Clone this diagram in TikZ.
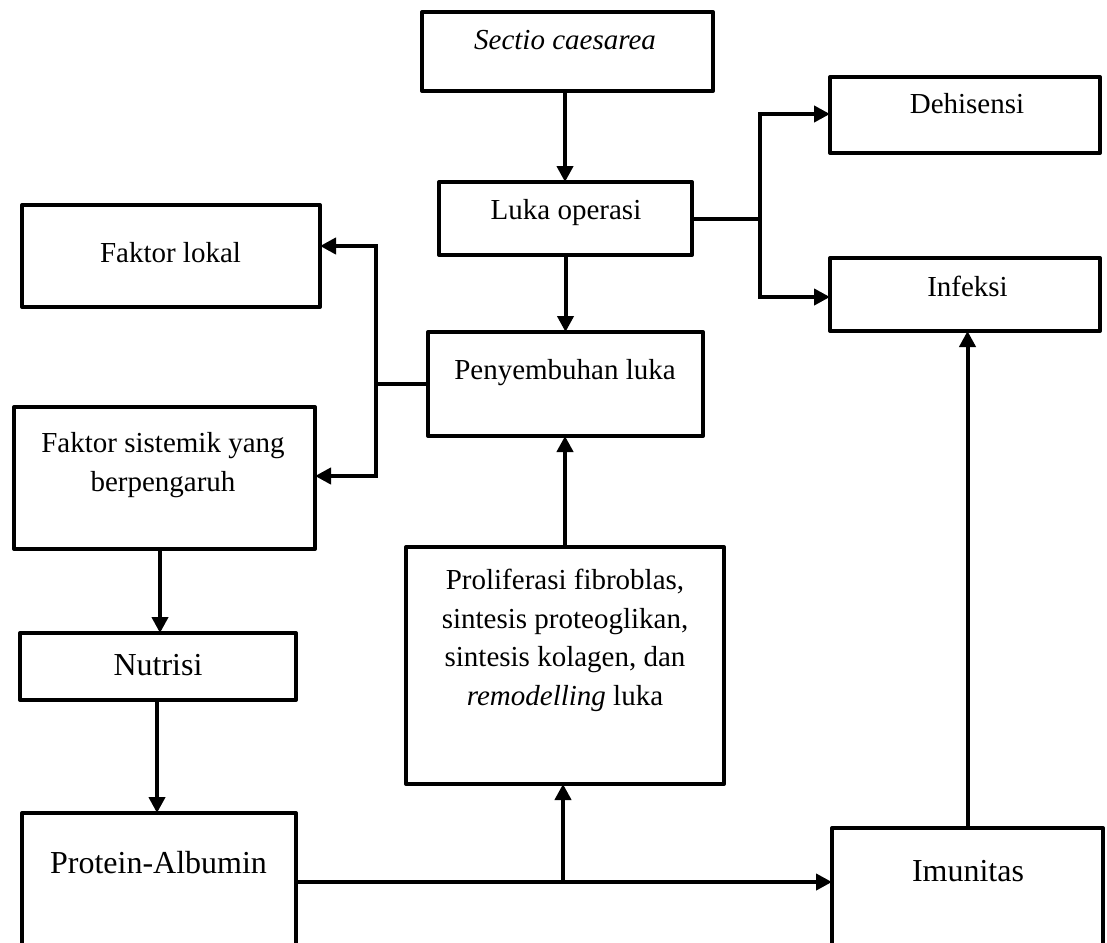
\documentclass[tikz,border=0pt]{standalone}
\usepackage{fontspec}
\setmainfont{Liberation Serif}
\usetikzlibrary{arrows.meta,calc}
\begin{document}
\begin{tikzpicture}[x=1pt,y=-1pt,
  box/.style={draw,line width=4pt,inner sep=0pt,outer sep=0pt,line join=round},
  txt/.style={font=\fontsize{29}{38.6}\selectfont,inner sep=0pt,anchor=base},
  big/.style={font=\fontsize{32}{38.6}\selectfont,inner sep=0pt,anchor=base},
  multi/.style={font=\fontsize{29}{38.6}\selectfont,inner sep=0pt,align=center,anchor=center},
  arr/.style={line width=4pt,-{Triangle[length=16pt,width=16pt]}},
  ln/.style={line width=4pt}]
\clip (0,0) rectangle (1107,942);
\fill[white] (0,0) rectangle (1107,942);
% boxes
\node[box,minimum width=291pt,minimum height=79pt] (sc) at (567.5,51.5) {};
\node[box,minimum width=253pt,minimum height=73pt] (luka) at (565.5,218.5) {};
\node[box,minimum width=270pt,minimum height=76pt] (deh) at (965,115) {};
\node[box,minimum width=270pt,minimum height=73pt] (inf) at (965,294.5) {};
\node[box,minimum width=298pt,minimum height=102pt] (fl) at (171,256) {};
\node[box,minimum width=275pt,minimum height=104pt] (peny) at (565.5,384) {};
\node[box,minimum width=301pt,minimum height=142pt] (fs) at (164.5,478) {};
\node[box,minimum width=276pt,minimum height=67pt] (nut) at (158,666.5) {};
\node[box,minimum width=318pt,minimum height=237pt] (prol) at (565,665.5) {};
\node[box,minimum width=274pt,minimum height=300pt] (prot) at (159,963) {};
\node[box,minimum width=271pt,minimum height=300pt] (imu) at (967.5,978) {};
% texts
\node[txt] (tsc) at (565,49) {\itshape Sectio caesarea};
\node[txt] (tluka) at (566,219) {Luka operasi};
\node[txt] (tdeh) at (967,113) {Dehisensi};
\node[txt] (tinf) at (967.5,296) {Infeksi};
\node[txt] (tfl) at (170.5,262) {Faktor lokal};
\node[txt] (tpeny) at (565,379) {Penyembuhan luka};
\node[multi] (tfs) at (163,465.2) {Faktor sistemik yang\\berpengaruh};
\node[big] (tnut) at (158,675) {Nutrisi};
\node[multi] (tprol) at (565,640.2) {Proliferasi fibroblas,\\sintesis proteoglikan,\\sintesis kolagen, dan\\\textit{remodelling} luka};
\node[big] (tprot) at (158.5,873) {Protein-Albumin};
\node[big] (timu) at (968,881) {Imunitas};
% connectors
\draw[arr] ([xshift=-2.5pt]sc.south) -- ([xshift=-2.5pt]sc.south |- luka.north);
\draw[arr] (luka.south) -- (luka.south |- peny.north);
\coordinate (jr) at ([xshift=68pt]luka.east);
\draw[ln] (luka.east) -- (jr);
\draw[arr] (jr) |- ([yshift=1pt]deh.west);
\draw[arr] (jr) |- ([yshift=-2.5pt]inf.west);
\coordinate (jl) at ([xshift=-52pt]peny.west);
\draw[ln] (peny.west) -- (jl);
\draw[arr] (jl) |- ([yshift=10pt]fl.east);
\draw[arr] (jl) |- ([yshift=2pt]fs.east);
\draw[arr] ([xshift=-4.5pt]fs.south) -- ([xshift=-4.5pt]fs.south |- nut.north);
\draw[arr] ([xshift=-1pt]nut.south) -- ([xshift=-1pt]nut.south |- prot.north);
\coordinate (pe) at ([yshift=-69pt]prot.north east);
\draw[arr] (pe) -- (pe -| imu.west);
\coordinate (jb) at ($(pe)!0.5!(pe -| imu.west)$);
\coordinate (jb) at (jb -| 563,0);
\draw[arr] (jb) -- (jb |- prol.south);
\draw[arr] (prol.north) -- (prol.north |- peny.south);
\draw[arr] (imu.north) -- (imu.north |- inf.south);
\end{tikzpicture}
\end{document}
